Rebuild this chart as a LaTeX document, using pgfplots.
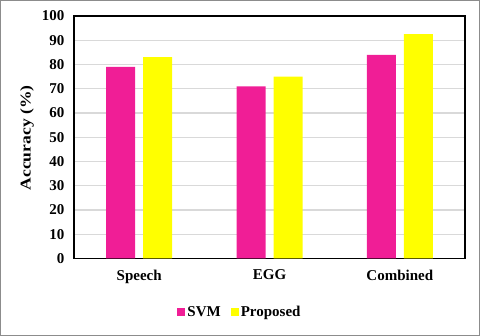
\documentclass[border=0pt]{standalone}
\usepackage{graphicx}
\usepackage{pgfplots}
\pgfplotsset{compat=1.18}
\usepackage{fontspec}
\setmainfont{Liberation Serif}
\definecolor{svmpink}{RGB}{240,30,150}
\definecolor{propyellow}{RGB}{255,255,0}
\definecolor{gridgray}{RGB}{217,217,217}
\begin{document}
\begin{tikzpicture}
\useasboundingbox (0pt,0pt) rectangle (480pt,336pt);
\draw[line width=1.2pt, color=black!45] (0.6pt,0.6pt) rectangle (479.4pt,335.4pt);
\begin{axis}[
  at={(74pt,77.5pt)}, anchor=south west,
  scale only axis, width=391pt, height=242.5pt,
  ybar, bar width=29pt, ybar=8pt,
  xmin=-0.5, xmax=2.5, ymin=0, ymax=100,
  xtick={0,1,2}, xticklabels={Speech,EGG,Combined},
  ytick={0,10,...,100},
  major tick length=0pt,
  ymajorgrids, grid style={gridgray, line width=1.2pt},
  axis line style={black, line width=1.3pt},
  tick label style={font=\fontsize{15}{18}\selectfont\bfseries},
  /pgf/number format/assume math mode=true,
  yticklabel style={xshift=-6pt},
  xticklabel style={yshift=-8pt},
  ylabel={\scalebox{1.17}[1]{Accuracy (\%)}},
  ylabel style={font=\fontsize{15}{18}\selectfont\bfseries, at={(axis description cs:-0.12,0.497)}, anchor=center},
  legend style={at={(axis description cs:0.4245,-0.2206)}, anchor=center, draw=none, fill=none,
    font=\fontsize{15}{18}\selectfont\bfseries, legend columns=2,
    /tikz/every even column/.append style={column sep=8pt}},
  legend image code/.code={\fill[#1] (0pt,-4pt) rectangle (8pt,4pt);},
]
\addplot[fill=svmpink, draw=none] coordinates {(0,79) (1,71) (2,84)};
\addplot[fill=propyellow, draw=none] coordinates {(0,83) (1,75) (2,92.5)};
\legend{SVM,Proposed}
\end{axis}
\end{tikzpicture}
\end{document}
